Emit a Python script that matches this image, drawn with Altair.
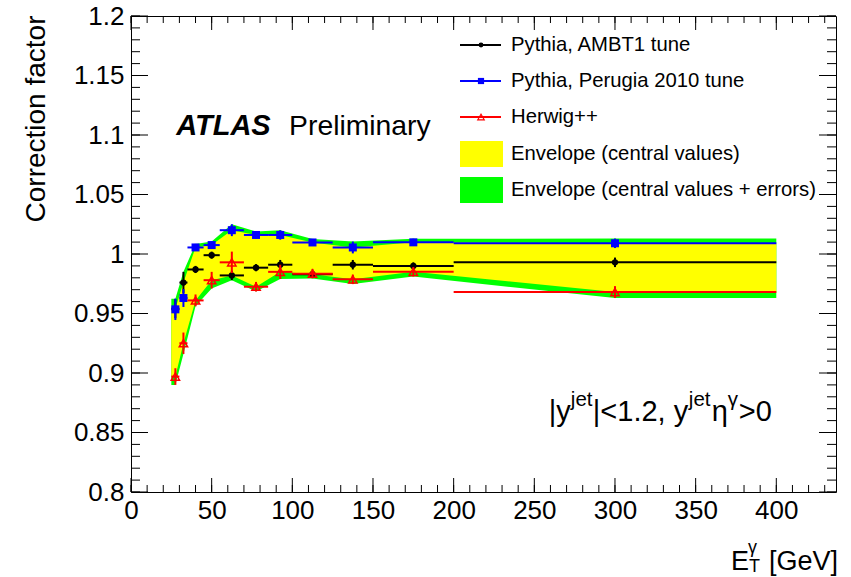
import altair as alt
import pandas as pd

# ---------------- data ----------------
bin_lo = [25, 30, 35, 45, 55, 70, 85, 100, 125, 150, 200]
bin_hi = [30, 35, 45, 55, 70, 85, 100, 125, 150, 200, 400]
bin_center = [27.5, 32.5, 40, 50, 62.5, 77.5, 92.5, 112.5, 137.5, 175, 300]

ambt1 = [0.954, 0.976, 0.987, 0.999, 0.982, 0.9885, 0.991, 0.983, 0.991, 0.990, 0.993]
ambt1_err = [0.008, 0.009, 0.003, 0.003, 0.004, 0.003, 0.004, 0.003, 0.004, 0.003, 0.004]
perugia = [0.9535, 0.963, 1.0055, 1.0075, 1.020, 1.016, 1.016, 1.0097, 1.0055, 1.0098, 1.009]
perugia_err = [0.009, 0.0075, 0.003, 0.003, 0.005, 0.003, 0.004, 0.003, 0.005, 0.003, 0.004]
herwig = [0.897, 0.925, 0.961, 0.978, 0.993, 0.9725, 0.985, 0.9835, 0.9787, 0.985, 0.968]
herwig_err = [0.007, 0.009, 0.005, 0.007, 0.009, 0.004, 0.006, 0.004, 0.004, 0.004, 0.005]

series_names = ["Pythia, AMBT1 tune", "Pythia, Perugia 2010 tune", "Herwig++"]
envelope_names = ["Envelope (central values)", "Envelope (central values + errors)"]

x_major = [0, 50, 100, 150, 200, 250, 300, 350, 400]
x_minor = list(range(0, 440, 10))
y_major = [0.8, 0.85, 0.9, 0.95, 1.0, 1.05, 1.1, 1.15, 1.2]
y_minor = [round(0.8 + 0.01 * i, 2) for i in range(41)]

# ---------------- style ----------------
W, H = 705, 476
FONT = "Liberation Sans"
BLACK, BLUE, RED = "#000000", "#0000ff", "#ff0000"
YELLOW, GREEN = "#ffff00", "#00ff00"

xs = alt.Scale(domain=[0, 437], nice=False, zero=False)
ys = alt.Scale(domain=[0.8, 1.2], nice=False, zero=False)

xaxis = alt.Axis(values=x_major, title=None, ticks=False, domain=False, grid=False,
                 labelFont=FONT, labelFontSize=26, labelColor="black", labelPadding=5,
                 labelFlush=False, labelOverlap=False)
yaxis = alt.Axis(values=y_major, format=".2~f", title="Correction factor",
                 titleFont=FONT, titleFontSize=28, titleFontWeight="normal", titleColor="black",
                 titleAngle=270, titleAlign="right", titleBaseline="alphabetic",
                 titleX=-87, titleY=-1,
                 ticks=False, domain=False, grid=False,
                 labelFont=FONT, labelFontSize=26, labelColor="black", labelPadding=7,
                 labelFlush=False, labelOverlap=False)


def X(f):
    return alt.X(f, type="quantitative", scale=xs, axis=xaxis)


def Y(f):
    return alt.Y(f, type="quantitative", scale=ys, axis=yaxis)


def sdf(vals, errs):
    return pd.DataFrame({
        "x": bin_center, "lo": bin_lo, "hi": bin_hi, "c": vals,
        "ylo": [v - e for v, e in zip(vals, errs)],
        "yhi": [v + e for v, e in zip(vals, errs)],
    })


def ext(a):
    return [a[0]] + list(a) + [a[-1]]


cmin = [min(t) for t in zip(ambt1, perugia, herwig)]
cmax = [max(t) for t in zip(ambt1, perugia, herwig)]
emin = [min(a - ea, b - eb, c - ec) for a, ea, b, eb, c, ec in
        zip(ambt1, ambt1_err, perugia, perugia_err, herwig, herwig_err)]
emax = [max(a + ea, b + eb, c + ec) for a, ea, b, eb, c, ec in
        zip(ambt1, ambt1_err, perugia, perugia_err, herwig, herwig_err)]
env = pd.DataFrame({"x": [bin_lo[0]] + bin_center + [bin_hi[-1]],
                    "clo": ext(cmin), "chi": ext(cmax), "elo": ext(emin), "ehi": ext(emax)})

layers = []
layers.append(alt.Chart(env).mark_area(color=GREEN, opacity=1).encode(
    x=X("x"), y=Y("elo"), y2="ehi"))
layers.append(alt.Chart(env).mark_area(color=YELLOW, opacity=1).encode(
    x=X("x"), y=Y("clo"), y2="chi"))

specs = [
    (ambt1, ambt1_err, BLACK, "circle", True, 40),
    (perugia, perugia_err, BLUE, "square", True, 64),
    (herwig, herwig_err, RED, "triangle-up", False, 70),
]
for vals, errs, col, shape, filled, size in specs:
    d = sdf(vals, errs)
    base = alt.Chart(d)
    layers.append(base.mark_rule(color=col, strokeWidth=2).encode(x=X("lo"), x2="hi", y=Y("c")))
    layers.append(base.mark_rule(color=col, strokeWidth=2).encode(x=X("x"), y=Y("ylo"), y2="yhi"))
    if filled:
        layers.append(base.mark_point(shape=shape, filled=True, color=col, size=size, opacity=1).encode(
            x=X("x"), y=Y("c")))
    else:
        layers.append(base.mark_point(shape=shape, filled=False, color=col, size=size,
                                      strokeWidth=1.5, opacity=1).encode(x=X("x"), y=Y("c")))

# ---------------- frame ticks (ROOT style, inward) ----------------
tx_major = pd.DataFrame({"t": x_major})
tx_minor = pd.DataFrame({"t": x_minor})
ty_major = pd.DataFrame({"t": y_major})
ty_minor = pd.DataFrame({"t": y_minor})
for d, L in [(tx_major, 14), (tx_minor, 7)]:
    layers.append(alt.Chart(d).mark_rule(color="black", strokeWidth=1).encode(
        x=X("t"), y=alt.value(H), y2=alt.value(H - L)))
    layers.append(alt.Chart(d).mark_rule(color="black", strokeWidth=1).encode(
        x=X("t"), y=alt.value(0), y2=alt.value(L)))
for d, L in [(ty_major, 17), (ty_minor, 9)]:
    layers.append(alt.Chart(d).mark_rule(color="black", strokeWidth=1).encode(
        y=Y("t"), x=alt.value(0), x2=alt.value(L)))
    layers.append(alt.Chart(d).mark_rule(color="black", strokeWidth=1).encode(
        y=Y("t"), x=alt.value(W), x2=alt.value(W - L)))

one = pd.DataFrame({"k": [0]})

# ---------------- legend ----------------
LX1, LX2, LXM, LXT = 329, 370, 350, 380
rows_y = [29, 65, 101, 138, 174]
for (vals, errs, col, shape, filled, size), ry, name in zip(specs, rows_y, series_names):
    layers.append(alt.Chart(one).mark_rule(color=col, strokeWidth=2).encode(
        x=alt.value(LX1), x2=alt.value(LX2), y=alt.value(ry)))
    layers.append(alt.Chart(one).mark_point(shape=shape, filled=filled, color=col,
                                            size=size * 0.6, strokeWidth=1.2, opacity=1).encode(
        x=alt.value(LXM), y=alt.value(ry)))
    layers.append(alt.Chart(one).mark_text(text=name, font=FONT, fontSize=20.3, align="left",
                                           baseline="middle", color="black").encode(
        x=alt.value(LXT), y=alt.value(ry)))
for col, ry, name in [(YELLOW, rows_y[3], envelope_names[0]), (GREEN, rows_y[4], envelope_names[1])]:
    layers.append(alt.Chart(one).mark_rect(color=col, opacity=1).encode(
        x=alt.value(LX1), x2=alt.value(LX1 + 43), y=alt.value(ry - 13), y2=alt.value(ry + 13)))
    layers.append(alt.Chart(one).mark_text(text=name, font=FONT, fontSize=20.3, align="left",
                                           baseline="middle", color="black").encode(
        x=alt.value(LXT), y=alt.value(ry)))

# ---------------- ATLAS label ----------------
layers.append(alt.Chart(one).mark_text(text="ATLAS", font=FONT, fontSize=29, fontWeight="bold",
                                       fontStyle="italic", align="left", baseline="alphabetic",
                                       color="black").encode(
    x=alt.datum(28), y=alt.datum(1.1)))
layers.append(alt.Chart(one).mark_text(text="Preliminary", font=FONT, fontSize=28.3, align="left",
                                       baseline="alphabetic", color="black").encode(
    x=alt.datum(98), y=alt.datum(1.1)))

# ---------------- region label |y^jet|<1.2, y^jet eta^gamma>0 ----------------
pieces = [("|y", 0, 0, 29), ("jet", 22, -15, 20.5), ("|<1.2, y", 44, 0, 29),
          ("jet", 140, -15, 20.5), ("η", 163, 0, 29), ("γ", 179, -15, 20.5), (">0", 190, 0, 29)]
for txt, dx, dy, fs in pieces:
    layers.append(alt.Chart(one).mark_text(text=txt, font=FONT, fontSize=fs, align="left",
                                           baseline="alphabetic", dx=dx, dy=dy,
                                           color="black").encode(
        x=alt.datum(259), y=alt.datum(0.86)))

# ---------------- x title E_T^gamma [GeV] ----------------
for txt, px, py, fs in [("E", 600, 554, 27), ("γ", 617, 537, 18), ("T", 618, 556, 18),
                        ("[GeV]", 638, 554, 27)]:
    layers.append(alt.Chart(one).mark_text(text=txt, font=FONT, fontSize=fs, align="left",
                                           baseline="alphabetic", color="black").encode(
        x=alt.value(px), y=alt.value(py)))

chart = alt.layer(*layers).properties(
    width=W, height=H,
    autosize=alt.AutoSizeParams(type="none"),
    padding={"left": 131, "top": 16, "right": 15, "bottom": 85},
    background="white",
).configure_view(stroke="black", strokeWidth=1)

chart.save("out.html", embed_options={"renderer": "svg", "actions": False})
